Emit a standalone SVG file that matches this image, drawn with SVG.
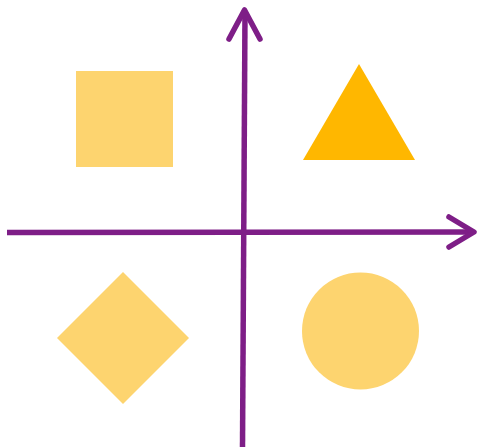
<svg xmlns="http://www.w3.org/2000/svg" width="477" height="447" viewBox="0 0 477 447">
<style>
.axis{stroke:#7E1E87;stroke-width:5.5;fill:none;stroke-linecap:round;stroke-linejoin:round}
.soft{fill:#FDD46F}
.strong{fill:#FFB700}
</style>
<rect width="477" height="447" fill="#fff"/>
<g id="connectors">
<path class="axis" d="M242.5 447 L245 12" style="stroke-linecap:butt"/>
<path class="axis" d="M229 39 L244.5 10 L260 39"/>
<path class="axis" d="M7 232.5 L473 232" style="stroke-linecap:butt"/>
<path class="axis" d="M449 217 L474 232 L449 247"/>
</g>
<g id="square"><rect class="soft" x="76" y="71" width="97" height="96"/></g>
<g id="triangle"><polygon class="strong" points="359,64 415,160 303,160"/></g>
<g id="diamond"><polygon class="soft" points="123,272 189,338 123,404 57,338"/></g>
<g id="circle"><circle class="soft" cx="360.5" cy="331" r="58.5"/></g>
</svg>
